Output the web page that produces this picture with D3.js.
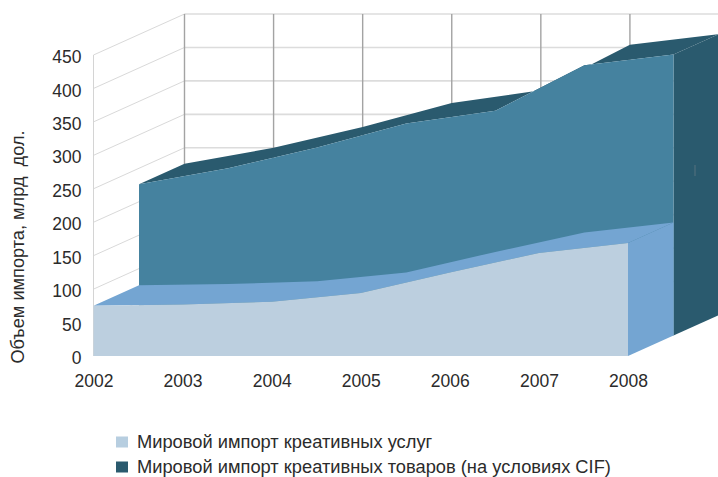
<!DOCTYPE html>
<html lang="ru">
<head>
<meta charset="utf-8">
<title>Мировой импорт креативных услуг и товаров</title>
<script src="https://cdn.jsdelivr.net/npm/d3@7"></script>
<style>
  html, body { margin: 0; padding: 0; background: #fff; overflow: hidden; }
  svg { display: block; }
  text { font-family: "Liberation Sans", Arial, sans-serif; fill: #2b2b2b; }
</style>
</head>
<body>
<svg id="chart" width="718" height="477"></svg>
<script>
const years = ["2002", "2003", "2004", "2005", "2006", "2007", "2008"];
const yTicks = [0, 50, 100, 150, 200, 250, 300, 350, 400, 450];
const servicesImport = [75, 77, 81, 94, 125, 154, 169];
const goodsImport = [226, 250, 281, 317, 336, 404, 420];
const seriesNames = [
  "Мировой импорт креативных услуг",
  "Мировой импорт креативных товаров (на условиях CIF)"
];
const yTitle = "Объем импорта, млрд\u00a0\u00a0дол.";

const colors = {
  servicesFront: "#bccfdf", servicesTop: "#74a5d2",
  goodsFront: "#45829f", goodsTop: "#2a5a6e",
  legendLight: "#b7cee0", legendDark: "#2a5a6e"
};

const svg = d3.select("#chart");
const x = d3.scalePoint().domain(years).range([93.5, 628]);
const y = d3.scaleLinear().domain([0, 450]).range([356, 55]);

// Oblique projection: depth 0 is the front plane, depth 1 the back wall.
const depthX = d3.scaleLinear().domain([0, 1]).range([0, 91]);
const depthY = d3.scaleLinear().domain([0, 1]).range([0, -41]);
const px = (year, depth) => x(year) + depthX(depth);
const py = (value, depth) => y(value) + depthY(depth);

// Walls
const walls = svg.append("g");
walls.selectAll("line.back-h").data(yTicks.slice(1)).join("line")
  .attr("x1", px(years[0], 1)).attr("x2", 718)
  .attr("y1", d => py(d, 1)).attr("y2", d => py(d, 1))
  .attr("stroke", "#dcdcdc").attr("stroke-width", 1.6);
walls.selectAll("line.side").data(yTicks.slice(1)).join("line")
  .attr("x1", px(years[0], 0)).attr("x2", px(years[0], 1))
  .attr("y1", d => py(d, 0)).attr("y2", d => py(d, 1))
  .attr("stroke", "#d9d9d9").attr("stroke-width", 1);
walls.selectAll("line.back-v").data(years).join("line")
  .attr("x1", d => px(d, 1)).attr("x2", d => px(d, 1))
  .attr("y1", py(450, 1)).attr("y2", py(0, 1))
  .attr("stroke", "#a3a3a3").attr("stroke-width", 1.4);
walls.append("line")
  .attr("x1", px(years[0], 0)).attr("x2", px(years[0], 0))
  .attr("y1", py(450, 0)).attr("y2", py(0, 0))
  .attr("stroke", "#d4d4d4").attr("stroke-width", 1);

// One solid slab of the area chart, between two depths.
function slab(values, d0, d1, frontFill, topFill, sideFill) {
  const rows = years.map((year, i) => ({ year, value: values[i] }));
  const g = svg.append("g");
  const last = rows[rows.length - 1];

  const top = d3.area()
    .x0(d => px(d.year, d0)).y0(d => py(d.value, d0))
    .x1(d => px(d.year, d1)).y1(d => py(d.value, d1));
  g.append("path").attr("d", top(rows)).attr("fill", topFill);

  const side = d3.line().x(d => px(last.year, d[0])).y(d => py(d[1], d[0]));
  g.append("path")
    .attr("d", side([[d0, last.value], [d1, last.value], [d1, 0], [d0, 0]]) + "Z")
    .attr("fill", sideFill);

  const front = d3.area()
    .x(d => px(d.year, d0))
    .y0(py(0, d0))
    .y1(d => py(d.value, d0));
  g.append("path").attr("d", front(rows)).attr("fill", frontFill);
}

slab(goodsImport, 0.5, 1, colors.goodsFront, colors.goodsTop, colors.goodsTop);
slab(servicesImport, 0, 0.5, colors.servicesFront, colors.servicesTop, colors.servicesTop);

// Faint stroke on the dark side face
svg.append("line")
  .attr("x1", 695).attr("x2", 695).attr("y1", 165).attr("y2", 176)
  .attr("stroke", "#4f6e7c").attr("stroke-width", 1.2);

// Axes
const yAxis = svg.append("g")
  .attr("transform", `translate(${x(years[0])},2)`)
  .call(d3.axisLeft(y).tickValues(yTicks).tickSize(0).tickPadding(12));
const xAxis = svg.append("g")
  .attr("transform", `translate(0,${y(0)})`)
  .call(d3.axisBottom(x).tickSize(0).tickPadding(19));
[yAxis, xAxis].forEach(a => {
  a.select(".domain").remove();
  a.selectAll("text")
    .style("font-family", '"Liberation Sans", Arial, sans-serif')
    .style("font-size", "17.5px").attr("fill", "#2b2b2b");
});

svg.append("text")
  .attr("transform", "translate(24,247) rotate(-90)")
  .attr("text-anchor", "middle")
  .style("font-size", "18.2px")
  .text(yTitle);

// Legend
const legendY = d3.scalePoint().domain(seriesNames).range([442, 467]);
const legendFill = d3.scaleOrdinal().domain(seriesNames)
  .range([colors.legendLight, colors.legendDark]);
const legend = svg.append("g").selectAll("g").data(seriesNames).join("g")
  .attr("transform", d => `translate(116,${legendY(d)})`);
legend.append("rect")
  .attr("y", -5.5).attr("width", 12).attr("height", 11)
  .attr("fill", d => legendFill(d));
legend.append("text")
  .attr("x", 21).attr("dy", "0.35em")
  .style("font-size", "18.3px")
  .text(d => d);
</script>
</body>
</html>
